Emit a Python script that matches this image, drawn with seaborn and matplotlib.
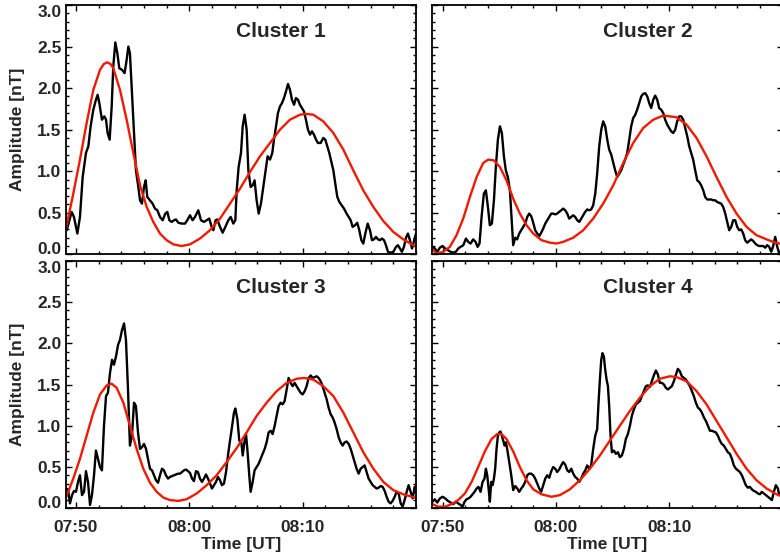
import numpy as np
import pandas as pd
import matplotlib
matplotlib.use("Agg")
import matplotlib.pyplot as plt
from matplotlib.ticker import MultipleLocator, FixedLocator
import seaborn as sns

# Time axis: minutes after 07:50 UT
tick_pos = [0, 10, 20]
tick_labels = ["07:50", "08:00", "08:10"]
amp_ticks = [0.0, 0.5, 1.0, 1.5, 2.0, 2.5, 3.0]
amp_labels = ["0.0", "0.5", "1.0", "1.5", "2.0", "2.5", "3.0"]
titles = ["Cluster 1", "Cluster 2", "Cluster 3", "Cluster 4"]

# ---- Cluster 1 ----
c1_t = [-0.82, -0.38, -0.18, 0.12, 0.35, 0.59, 0.88, 1.09, 1.29, 1.53, 1.76, 1.91, 2.06, 2.29, 2.50,
        2.65, 2.79, 2.97, 3.15, 3.29, 3.47, 3.65, 3.82, 4.06, 4.29, 4.47, 4.62, 4.76, 4.94, 5.12,
        5.29, 5.50, 5.65, 5.82, 6.00, 6.15, 6.29, 6.53, 6.76, 6.97, 7.18, 7.41, 7.65, 7.88, 8.06,
        8.24, 8.44, 8.65, 8.82, 9.03, 9.32, 9.62, 9.82, 10.06, 10.29, 10.50, 10.79, 11.03, 11.29,
        11.53, 11.76, 11.97, 12.12, 12.32, 12.47, 12.71, 12.94, 13.18, 13.44, 13.65, 13.88, 14.06,
        14.18, 14.35, 14.56, 14.71, 14.88, 15.06, 15.21, 15.41, 15.59, 15.76, 15.94, 16.12, 16.32,
        16.53, 16.74, 16.91, 17.12, 17.32, 17.47, 17.65, 17.82, 18.00, 18.18, 18.35, 18.53, 18.71,
        18.88, 19.06, 19.24, 19.41, 19.59, 19.76, 19.94, 20.12, 20.29, 20.47, 20.65, 20.82, 21.00,
        21.18, 21.35, 21.59, 21.82, 22.00, 22.18, 22.35, 22.56, 22.71, 22.88, 23.06, 23.24, 23.44,
        23.65, 23.88, 24.06, 24.24, 24.41, 24.62, 24.82, 25.00, 25.18, 25.35, 25.53, 25.74, 25.94,
        26.12, 26.29, 26.47, 26.65, 26.82, 27.00, 27.18, 27.35, 27.53, 27.76, 28.00, 28.24, 28.41,
        28.59, 28.76, 28.94, 29.12, 29.29, 29.47, 29.65, 29.82, 30.00]
c1_amp = [0.29, 0.51, 0.45, 0.25, 0.45, 0.93, 1.22, 1.30, 1.54, 1.74, 1.86, 1.92, 1.82, 1.62, 1.66,
          1.62, 1.46, 1.38, 1.78, 2.26, 2.55, 2.42, 2.24, 2.22, 2.18, 2.34, 2.50, 2.42, 1.94, 1.46,
          1.01, 0.81, 0.65, 0.61, 0.81, 0.89, 0.69, 0.65, 0.61, 0.55, 0.53, 0.45, 0.41, 0.49, 0.51,
          0.41, 0.39, 0.41, 0.42, 0.38, 0.37, 0.37, 0.41, 0.47, 0.41, 0.45, 0.53, 0.41, 0.39,
          0.41, 0.43, 0.33, 0.29, 0.41, 0.42, 0.33, 0.26, 0.33, 0.41, 0.45, 0.37, 0.41,
          0.77, 1.05, 1.22, 1.54, 1.68, 1.50, 1.01, 0.81, 0.83, 0.89, 0.65, 0.49, 0.61,
          0.81, 1.01, 1.18, 1.14, 1.22, 1.38, 1.54, 1.70, 1.78, 1.82, 1.88, 1.96, 2.05,
          1.98, 1.86, 1.80, 1.88, 1.86, 1.80, 1.76, 1.72, 1.62, 1.50, 1.44, 1.48, 1.44,
          1.38, 1.34, 1.34, 1.40, 1.38, 1.30, 1.22, 1.10, 1.01, 0.85, 0.69, 0.63, 0.59,
          0.55, 0.49, 0.45, 0.41, 0.33, 0.35, 0.38, 0.29, 0.17, 0.13, 0.25, 0.37, 0.29,
          0.17, 0.18, 0.21, 0.18, 0.17, 0.19, 0.17, 0.11, 0.03, 0.02, 0.03, 0.09, 0.11,
          0.07, 0.03, 0.09, 0.20, 0.25, 0.17, 0.07, 0.16, 0.25]
c1_fit_t = [-0.91, -0.24, 0.35, 0.94, 1.53, 2.12, 2.45, 2.76, 3.05, 3.29, 3.88, 4.47, 5.06, 5.65,
            6.24, 6.82, 7.41, 8.00, 8.59, 9.32, 10.06, 10.94, 11.82, 12.71, 13.59, 14.47, 15.35,
            16.24, 17.12, 18.00, 18.88, 19.76, 20.29, 20.94, 21.82, 22.71, 23.59, 24.47, 25.35,
            26.24, 27.12, 28.00, 28.88, 29.76, 30.00]
c1_fit = [0.29, 0.73, 1.14, 1.58, 1.98, 2.22, 2.29, 2.31, 2.29, 2.24, 1.98, 1.62, 1.22, 0.83,
          0.57, 0.39, 0.25, 0.17, 0.12, 0.10, 0.12, 0.19, 0.29, 0.43, 0.61, 0.79, 0.99,
          1.18, 1.34, 1.50, 1.62, 1.68, 1.69, 1.68, 1.60, 1.46, 1.26, 1.01, 0.77,
          0.57, 0.40, 0.27, 0.18, 0.11, 0.10]

# ---- Cluster 2 ----
c2_t = [-0.89, -0.68, -0.47, -0.24, 0.00, 0.23, 0.47, 0.70, 0.94, 1.17, 1.38, 1.59, 1.83, 2.06,
        2.26, 2.47, 2.70, 2.91, 3.09, 3.26, 3.44, 3.64, 3.82, 4.00, 4.17, 4.35, 4.53, 4.70, 4.88,
        5.06, 5.23, 5.41, 5.58, 5.76, 5.94, 6.08, 6.23, 6.41, 6.58, 6.76, 6.94, 7.11, 7.29, 7.47,
        7.64, 7.82, 8.00, 8.17, 8.35, 8.53, 8.70, 8.88, 9.06, 9.23, 9.41, 9.59, 9.76, 9.94, 10.11,
        10.29, 10.47, 10.64, 10.82, 11.00, 11.17, 11.35, 11.53, 11.70, 11.88, 12.06, 12.23, 12.41,
        12.58, 12.76, 12.94, 13.11, 13.29, 13.47, 13.64, 13.82, 14.00, 14.17, 14.35, 14.53, 14.70,
        14.88, 15.06, 15.23, 15.41, 15.58, 15.76, 15.94, 16.11, 16.29, 16.47, 16.64, 16.82, 17.00,
        17.17, 17.35, 17.53, 17.70, 17.88, 18.06, 18.23, 18.41, 18.59, 18.76, 18.94, 19.11, 19.29,
        19.47, 19.64, 19.82, 20.00, 20.17, 20.35, 20.53, 20.70, 20.88, 21.06, 21.23, 21.41, 21.59,
        21.76, 21.94, 22.11, 22.29, 22.47, 22.64, 22.82, 23.00, 23.17, 23.35, 23.53, 23.70, 23.88,
        24.06, 24.23, 24.41, 24.58, 24.76, 24.94, 25.11, 25.29, 25.47, 25.64, 25.82, 26.00, 26.17,
        26.35, 26.53, 26.70, 26.88, 27.06, 27.23, 27.41, 27.59, 27.76, 27.94, 28.11, 28.29, 28.47,
        28.64, 28.82, 29.00, 29.17, 29.35, 29.53, 29.70, 29.90]
c2_amp = [0.09, 0.07, 0.03, 0.08, 0.10, 0.07, 0.05, 0.03, 0.02, 0.03, 0.07, 0.09, 0.11, 0.19,
          0.15, 0.13, 0.18, 0.15, 0.09, 0.13, 0.45, 0.73, 0.77, 0.57, 0.35, 0.37, 0.65, 1.05, 1.38,
          1.54, 1.46, 1.18, 1.01, 0.93, 0.77, 0.45, 0.11, 0.20, 0.18, 0.25, 0.29, 0.33, 0.37, 0.45,
          0.49, 0.46, 0.38, 0.29, 0.25, 0.22, 0.26, 0.31, 0.37, 0.41, 0.45, 0.49, 0.49, 0.48, 0.49,
          0.51, 0.53, 0.55, 0.53, 0.49, 0.43, 0.45, 0.47, 0.45, 0.41, 0.39, 0.43, 0.47,
          0.51, 0.54, 0.53, 0.54, 0.59, 0.73, 0.97, 1.30, 1.50, 1.60, 1.54, 1.38, 1.26,
          1.20, 1.10, 1.01, 0.93, 0.97, 1.01, 1.08, 1.14, 1.22, 1.38, 1.54, 1.64, 1.68,
          1.74, 1.82, 1.90, 1.93, 1.94, 1.90, 1.82, 1.76, 1.86, 1.91, 1.86, 1.76, 1.74,
          1.70, 1.62, 1.56, 1.52, 1.48, 1.46, 1.50, 1.60, 1.66, 1.66, 1.62, 1.52, 1.42,
          1.30, 1.22, 1.14, 1.01, 0.89, 0.87, 0.83, 0.77, 0.69, 0.66, 0.66, 0.66, 0.65,
          0.65, 0.63, 0.62, 0.61, 0.57, 0.49, 0.39, 0.29, 0.33, 0.41, 0.41, 0.33, 0.29,
          0.30, 0.25, 0.17, 0.14, 0.16, 0.18, 0.16, 0.13, 0.11, 0.10, 0.10, 0.10, 0.08,
          0.11, 0.09, 0.03, 0.10, 0.21, 0.09, 0.01, 0.05]
c2_fit_t = [-0.89, -0.53, 0.06, 0.64, 1.23, 1.82, 2.41, 3.00, 3.59, 4.03, 4.53, 5.06, 5.64, 6.23,
            6.82, 7.41, 8.00, 8.73, 9.47, 10.06, 10.64, 11.53, 12.41, 13.29, 14.17, 15.06, 15.94,
            16.82, 17.70, 18.59, 19.47, 20.06, 20.64, 21.53, 22.41, 23.29, 24.17, 25.06, 25.94,
            26.82, 27.70, 28.59, 29.17, 29.70, 30.00]
c2_fit = [0.06, 0.01, 0.03, 0.09, 0.23, 0.43, 0.69, 0.93, 1.10, 1.14, 1.13, 1.05, 0.89, 0.67,
          0.49, 0.35, 0.25, 0.17, 0.14, 0.13, 0.15, 0.20, 0.29, 0.43, 0.61, 0.83, 1.10,
          1.34, 1.52, 1.62, 1.67, 1.66, 1.65, 1.56, 1.40, 1.18, 0.93, 0.69, 0.49,
          0.33, 0.23, 0.18, 0.15, 0.13, 0.12]

# ---- Cluster 3 ----
c3_t = [-0.91, -0.71, -0.53, -0.35, -0.18, 0.00, 0.18, 0.35, 0.53, 0.71, 0.88, 1.06, 1.24, 1.41,
        1.59, 1.76, 1.94, 2.12, 2.29, 2.47, 2.65, 2.82, 3.00, 3.18, 3.35, 3.53, 3.71, 3.88, 4.06,
        4.24, 4.41, 4.59, 4.76, 4.94, 5.12, 5.29, 5.47, 5.65, 5.82, 6.00, 6.18, 6.35, 6.53, 6.71,
        6.88, 7.06, 7.24, 7.41, 7.59, 7.76, 7.94, 8.12, 8.29, 8.47, 8.65, 8.82, 9.00, 9.18, 9.35,
        9.53, 9.71, 9.88, 10.06, 10.24, 10.41, 10.59, 10.76, 10.94, 11.12, 11.29, 11.47, 11.65,
        11.82, 12.00, 12.18, 12.35, 12.53, 12.71, 12.88, 13.06, 13.24, 13.41, 13.59, 13.76, 13.94,
        14.06, 14.24, 14.41, 14.59, 14.71, 14.88, 15.00, 15.12, 15.29, 15.41, 15.59, 15.76, 15.94,
        16.12, 16.29, 16.47, 16.65, 16.82, 17.00, 17.18, 17.35, 17.53, 17.71, 17.88, 18.06, 18.24,
        18.41, 18.59, 18.76, 18.94, 19.12, 19.29, 19.47, 19.65, 19.82, 20.00, 20.18, 20.35, 20.53,
        20.71, 20.88, 21.06, 21.24, 21.41, 21.59, 21.76, 21.94, 22.12, 22.29, 22.47, 22.65, 22.82,
        23.00, 23.18, 23.35, 23.53, 23.71, 23.88, 24.06, 24.24, 24.41, 24.59, 24.76, 24.94, 25.12,
        25.29, 25.47, 25.65, 25.82, 26.00, 26.18, 26.35, 26.53, 26.71, 26.88, 27.06, 27.24, 27.41,
        27.59, 27.76, 27.94, 28.12, 28.29, 28.47, 28.65, 28.82, 29.00, 29.18, 29.35, 29.53, 29.71,
        29.88]
c3_amp = [0.24, 0.23, 0.06, 0.16, 0.21, 0.20, 0.32, 0.40, 0.16, 0.20, 0.45, 0.32, 0.04, 0.16,
          0.40, 0.70, 0.60, 0.50, 0.46, 1.00, 1.36, 1.40, 1.64, 1.80, 1.74, 1.84, 1.98, 2.04, 2.16,
          2.24, 2.04, 1.44, 0.76, 0.88, 1.28, 1.24, 0.92, 0.72, 0.74, 0.78, 0.72, 0.60, 0.48, 0.46,
          0.40, 0.34, 0.31, 0.40, 0.48, 0.46, 0.40, 0.36, 0.38, 0.39, 0.40, 0.41, 0.42, 0.42, 0.44,
          0.46, 0.47, 0.45, 0.43, 0.36, 0.33, 0.45, 0.44, 0.36, 0.32, 0.36, 0.41, 0.36,
          0.30, 0.24, 0.28, 0.32, 0.38, 0.34, 0.28, 0.30, 0.44, 0.64, 0.82, 0.98, 1.16,
          1.21, 1.08, 0.82, 0.80, 0.64, 0.82, 0.90, 0.72, 0.40, 0.20, 0.32, 0.46, 0.50,
          0.54, 0.60, 0.66, 0.72, 0.80, 0.92, 0.94, 0.90, 1.00, 1.12, 1.24, 1.28, 1.26,
          1.30, 1.44, 1.58, 1.52, 1.48, 1.52, 1.48, 1.44, 1.40, 1.38, 1.42, 1.48, 1.58,
          1.61, 1.58, 1.59, 1.60, 1.58, 1.54, 1.48, 1.40, 1.32, 1.22, 1.14, 1.10, 1.04,
          0.96, 0.86, 0.80, 0.76, 0.80, 0.81, 0.78, 0.72, 0.64, 0.56, 0.48, 0.42, 0.48,
          0.50, 0.52, 0.44, 0.36, 0.32, 0.28, 0.26, 0.24, 0.25, 0.27, 0.26, 0.21, 0.14,
          0.08, 0.06, 0.09, 0.14, 0.20, 0.18, 0.06, 0.02, 0.10, 0.20, 0.28, 0.20, 0.12,
          0.26]
c3_fit_t = [-0.91, -0.24, 0.35, 0.94, 1.53, 2.12, 2.71, 3.15, 3.59, 4.18, 4.76, 5.35, 5.94, 6.53,
            7.12, 7.71, 8.29, 9.03, 9.76, 10.65, 11.53, 12.41, 13.29, 14.18, 15.06, 15.94, 16.82,
            17.71, 18.59, 19.47, 20.12, 20.94, 21.82, 22.71, 23.59, 24.47, 25.35, 26.24, 27.12,
            28.00, 28.88, 29.91, 30.00]
c3_fit = [0.12, 0.36, 0.60, 0.88, 1.16, 1.38, 1.49, 1.51, 1.46, 1.28, 1.00, 0.72, 0.48, 0.31,
          0.20, 0.13, 0.10, 0.09, 0.11, 0.18, 0.28, 0.40, 0.56, 0.73, 0.92, 1.12, 1.28,
          1.42, 1.52, 1.57, 1.58, 1.56, 1.48, 1.36, 1.16, 0.92, 0.68, 0.48, 0.32,
          0.22, 0.17, 0.13, 0.13]

# ---- Cluster 4 ----
c4_t = [-0.89, -0.68, -0.47, -0.24, 0.00, 0.23, 0.47, 0.70, 0.94, 1.17, 1.38, 1.59, 1.76, 1.94,
        2.11, 2.29, 2.47, 2.64, 2.82, 3.00, 3.17, 3.35, 3.53, 3.70, 3.82, 3.94, 4.06, 4.17, 4.29,
        4.41, 4.53, 4.64, 4.76, 4.88, 5.00, 5.11, 5.23, 5.35, 5.47, 5.59, 5.70, 5.88, 6.06, 6.23,
        6.41, 6.59, 6.76, 6.94, 7.11, 7.29, 7.47, 7.64, 7.82, 8.00, 8.17, 8.35, 8.53, 8.70, 8.88,
        9.06, 9.23, 9.41, 9.59, 9.76, 9.94, 10.11, 10.29, 10.47, 10.64, 10.82, 11.00, 11.17, 11.35,
        11.53, 11.70, 11.88, 12.06, 12.23, 12.41, 12.59, 12.76, 12.94, 13.11, 13.29, 13.47, 13.64,
        13.76, 13.88, 14.00, 14.11, 14.23, 14.35, 14.47, 14.59, 14.70, 14.82, 14.94, 15.11, 15.29,
        15.47, 15.64, 15.82, 16.00, 16.17, 16.35, 16.53, 16.70, 16.88, 17.06, 17.23, 17.41, 17.58,
        17.76, 17.94, 18.11, 18.29, 18.47, 18.64, 18.82, 19.00, 19.17, 19.35, 19.53, 19.70, 19.88,
        20.06, 20.23, 20.41, 20.59, 20.76, 20.94, 21.11, 21.29, 21.47, 21.64, 21.82, 22.00, 22.17,
        22.35, 22.53, 22.70, 22.88, 23.06, 23.23, 23.41, 23.59, 23.76, 23.94, 24.11, 24.29, 24.47,
        24.64, 24.82, 25.00, 25.17, 25.35, 25.53, 25.70, 25.88, 26.06, 26.23, 26.41, 26.59, 26.76,
        26.94, 27.11, 27.29, 27.47, 27.64, 27.82, 28.00, 28.17, 28.35, 28.53, 28.70, 28.88, 29.06,
        29.23, 29.41, 29.59, 29.70, 29.90]
c4_amp = [0.08, 0.11, 0.07, 0.12, 0.14, 0.12, 0.09, 0.07, 0.05, 0.08, 0.06, 0.04, 0.02, 0.08,
          0.11, 0.12, 0.14, 0.17, 0.20, 0.24, 0.26, 0.20, 0.32, 0.36, 0.48, 0.40, 0.24, 0.08, 0.32,
          0.28, 0.36, 0.48, 0.72, 0.88, 0.92, 0.93, 0.88, 0.82, 0.76, 0.80, 0.72, 0.56, 0.40, 0.22,
          0.27, 0.24, 0.20, 0.24, 0.27, 0.32, 0.40, 0.42, 0.42, 0.40, 0.36, 0.30, 0.24, 0.20, 0.28,
          0.36, 0.40, 0.37, 0.45, 0.50, 0.48, 0.44, 0.47, 0.52, 0.56, 0.53, 0.46, 0.44, 0.48,
          0.42, 0.38, 0.36, 0.32, 0.36, 0.42, 0.46, 0.52, 0.48, 0.52, 0.72, 0.88, 0.96,
          1.28, 1.56, 1.80, 1.88, 1.84, 1.68, 1.56, 1.48, 1.24, 0.88, 0.68, 0.70, 0.66,
          0.68, 0.62, 0.64, 0.72, 0.84, 0.90, 1.00, 1.12, 1.20, 1.26, 1.28, 1.30, 1.36,
          1.42, 1.48, 1.49, 1.47, 1.54, 1.61, 1.67, 1.62, 1.52, 1.52, 1.50, 1.46, 1.44,
          1.46, 1.48, 1.54, 1.62, 1.69, 1.66, 1.60, 1.58, 1.56, 1.52, 1.48, 1.42, 1.36,
          1.28, 1.22, 1.20, 1.16, 1.10, 1.06, 1.00, 0.94, 0.94, 0.93, 0.92, 0.88, 0.82,
          0.78, 0.76, 0.72, 0.68, 0.66, 0.60, 0.52, 0.48, 0.46, 0.44, 0.40, 0.34, 0.28,
          0.25, 0.26, 0.23, 0.21, 0.20, 0.18, 0.17, 0.20, 0.18, 0.16, 0.14, 0.12, 0.10,
          0.20, 0.28, 0.24, 0.16, 0.20]
c4_fit_t = [-0.89, -0.39, 0.20, 0.79, 1.38, 1.97, 2.56, 3.14, 3.73, 4.32, 4.82, 5.20, 5.64, 6.23,
            6.82, 7.41, 8.00, 8.73, 9.61, 10.35, 11.23, 12.11, 13.00, 13.88, 14.76, 15.64, 16.53,
            17.41, 18.29, 19.17, 20.06, 20.64, 21.53, 22.41, 23.29, 24.17, 25.06, 25.94, 26.82,
            27.70, 28.59, 29.47, 30.00]
c4_fit = [0.05, 0.02, 0.02, 0.05, 0.10, 0.18, 0.32, 0.50, 0.69, 0.84, 0.90, 0.90, 0.84, 0.69,
          0.50, 0.34, 0.23, 0.17, 0.14, 0.16, 0.23, 0.34, 0.48, 0.64, 0.82, 1.00, 1.18,
          1.34, 1.48, 1.57, 1.60, 1.59, 1.54, 1.42, 1.26, 1.06, 0.86, 0.66, 0.48,
          0.34, 0.24, 0.17, 0.14]

series = [
    (c1_t, c1_amp, c1_fit_t, c1_fit),
    (c2_t, c2_amp, c2_fit_t, c2_fit),
    (c3_t, c3_amp, c3_fit_t, c3_fit),
    (c4_t, c4_amp, c4_fit_t, c4_fit),
]

sns.set_theme(style="ticks")
plt.rcParams["font.family"] = ["Liberation Sans", "DejaVu Sans"]
plt.rcParams["font.weight"] = "bold"
plt.rcParams["axes.labelweight"] = "bold"

fig = plt.figure(figsize=(7.8, 5.57), dpi=100)

# panel rectangles [left, bottom, width, height] in figure fractions
rects = [
    [0.0842, 0.5434, 0.4491, 0.4476],
    [0.5542, 0.5434, 0.4491, 0.4476],
    [0.0842, 0.0874, 0.4491, 0.4445],
    [0.5542, 0.0874, 0.4491, 0.4445],
]

black = "#000000"
red = "#f01a00"

for i, (rect, (t, amp, ft, fit)) in enumerate(zip(rects, series)):
    ax = fig.add_axes(rect)
    obs = pd.DataFrame({"t": t, "amp": amp})
    model = pd.DataFrame({"t": ft, "amp": fit})
    sns.lineplot(data=obs, x="t", y="amp", ax=ax, color=black, lw=1.7,
                 sort=False, estimator=None)
    sns.lineplot(data=model, x="t", y="amp", ax=ax, color=red, lw=1.7,
                 sort=False, estimator=None)
    ax.set_xlim(-0.91, 30.0)
    ax.set_ylim(0, 3.0)
    ax.set_xlabel("")
    ax.set_ylabel("")

    ax.xaxis.set_major_locator(FixedLocator(tick_pos))
    ax.xaxis.set_minor_locator(MultipleLocator(2))
    ax.yaxis.set_major_locator(FixedLocator(amp_ticks))
    ax.yaxis.set_minor_locator(MultipleLocator(0.1))
    ax.tick_params(which="both", direction="in", top=True, right=True,
                   color="black", width=1.0)
    ax.tick_params(which="major", length=4.5, labelsize=12.5)
    ax.tick_params(which="minor", length=2.3)
    ax.tick_params(axis="x", pad=8.5)
    ax.tick_params(axis="y", pad=3)
    for sp in ax.spines.values():
        sp.set_linewidth(1.3)
        sp.set_color("black")

    left = i % 2 == 0
    bottom = i >= 2
    if bottom:
        ax.set_xticklabels(tick_labels, fontweight="bold")
        ax.text(0.5, -0.148, "Time [UT]", transform=ax.transAxes, ha="center",
                va="center", fontsize=12.5, fontweight="bold")
    else:
        ax.set_xticklabels([])
    if left:
        ax.set_yticklabels(amp_labels, fontweight="bold")
        yt = ax.yaxis.get_major_ticks()
        # keep the end labels inside the frame height
        yt[0].label1.set_va("baseline")
        yt[-1].label1.set_va("top")
        ax.text(-0.138, 0.5, "Amplitude [nT]", transform=ax.transAxes,
                rotation=90, ha="center", va="center", fontsize=12.5,
                fontweight="bold")
    else:
        ax.set_yticklabels([])

    ax.text(0.614, 0.893, titles[i], transform=ax.transAxes, ha="center",
            va="center", fontsize=15, fontweight="bold")

fig.savefig("out.png", dpi=100)
